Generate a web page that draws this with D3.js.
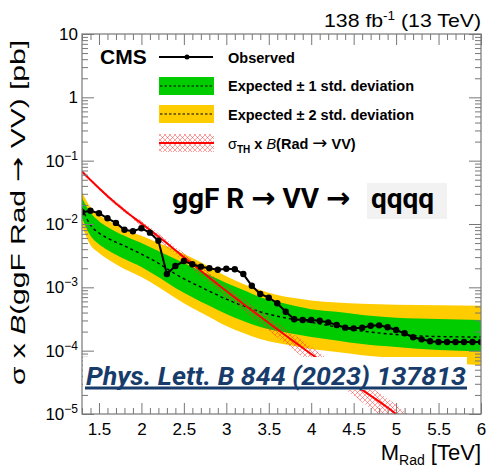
<!DOCTYPE html>
<html>
<head>
<meta charset="utf-8">
<script src="https://cdn.jsdelivr.net/npm/d3@7"></script>
<style>
  body { margin: 0; background: #fff; }
  text { font-family: "Liberation Sans", Arial, sans-serif; }
  .axis path { display: none; }
  .axis line { stroke: #777; }
  .arrow { font-family: "DejaVu Sans", sans-serif; }
</style>
</head>
<body>
<div id="chart"></div>
<script>
// observed limit, one point per 0.1 TeV
var massObs = [1.3,1.4,1.5,1.6,1.7,1.8,1.9,2.0,2.1,2.2,2.3,2.4,2.5,2.6,2.7,2.8,2.9,3.0,3.1,3.2,
  3.3,3.4,3.5,3.6,3.7,3.8,3.9,4.0,4.1,4.2,4.3,4.4,4.5,4.6,4.7,4.8,4.9,5.0,5.1,5.2,5.3,5.4,5.5,5.6,5.7,5.8,5.9,6.0];
var observed = [1.53e-2,1.62e-2,1.48e-2,1.23e-2,1.04e-2,8.1e-3,7.7e-3,8.55e-3,7.3e-3,5.45e-3,1.62e-3,2.17e-3,2.6e-3,
  2.31e-3,2.12e-3,2.0e-3,1.9e-3,1.97e-3,1.93e-3,1.62e-3,1.06e-3,7.85e-4,6.86e-4,5.6e-4,4.12e-4,3.13e-4,3.05e-4,3.05e-4,
  2.97e-4,2.8e-4,2.54e-4,2.31e-4,2.25e-4,2.31e-4,2.48e-4,2.51e-4,2.34e-4,2.12e-4,1.88e-4,1.63e-4,1.51e-4,1.41e-4,
  1.37e-4,1.37e-4,1.37e-4,1.37e-4,1.37e-4,1.37e-4];

// expected limit and bands
var massExp = [1.3,1.4,1.5,1.6,1.8,2.0,2.2,2.4,2.6,2.8,3.0,3.2,3.4,3.6,3.8,4.0,4.3,4.6,5.0,5.5,6.0];
var exp2Up = [3.2e-2,1.85e-2,1.39e-2,1.16e-2,8.3e-3,6.5e-3,5.0e-3,3.9e-3,2.9e-3,2.1e-3,1.5e-3,1.13e-3,9.1e-4,7.6e-4,6.8e-4,6.2e-4,5.75e-4,5.5e-4,5.3e-4,5.2e-4,5.1e-4];
var exp1Up = [2.6e-2,1.5e-2,1.11e-2,9.0e-3,6.5e-3,5.0e-3,3.75e-3,2.8e-3,2.1e-3,1.57e-3,1.17e-3,9.1e-4,7.0e-4,5.9e-4,5.1e-4,4.5e-4,4.1e-4,3.65e-4,3.3e-4,3.16e-4,3.05e-4];
var expMedian = [1.79e-2,9.6e-3,7.2e-3,6.0e-3,4.5e-3,3.35e-3,2.4e-3,1.62e-3,1.17e-3,8.7e-4,6.5e-4,5.1e-4,4.1e-4,3.5e-4,3.1e-4,2.8e-4,2.36e-4,2.04e-4,1.8e-4,1.67e-4,1.64e-4];
var exp1Down = [1.24e-2,6.5e-3,4.8e-3,3.9e-3,2.8e-3,2.1e-3,1.45e-3,9.75e-4,7.0e-4,5.1e-4,3.8e-4,2.94e-4,2.36e-4,2.04e-4,1.83e-4,1.64e-4,1.45e-4,1.27e-4,1.14e-4,1.02e-4,9.7e-5];
var exp2Down = [9.3e-3,4.65e-3,3.5e-3,2.8e-3,1.95e-3,1.45e-3,1.01e-3,6.8e-4,4.7e-4,3.4e-4,2.45e-4,1.9e-4,1.53e-4,1.32e-4,1.18e-4,1.06e-4,9.5e-5,8.5e-5,7.65e-5,6.6e-5,5.9e-5];

// theory cross section x BR and its relative uncertainty
var massTh = [1.3,1.4,1.6,1.8,2.0,2.2,2.5,3.0,3.5,4.0,4.5,5.0,5.2];
var theory = [6.75e-2,4.95e-2,2.77e-2,1.63e-2,1.02e-2,6.35e-3,3.0e-3,8.75e-4,2.74e-4,8.85e-5,2.97e-5,1.0e-5,6.0e-6];
var theoryErr = [0.04,0.05,0.06,0.08,0.1,0.12,0.15,0.2,0.25,0.3,0.35,0.4,0.42];

// axis ticks
var xMajor = [1.5,2,2.5,3,3.5,4,4.5,5,5.5,6];
var xMinor = [1.3,1.4,1.6,1.7,1.8,1.9,2.1,2.2,2.3,2.4,2.6,2.7,2.8,2.9,3.1,3.2,3.3,3.4,3.6,3.7,3.8,3.9,
  4.1,4.2,4.3,4.4,4.6,4.7,4.8,4.9,5.1,5.2,5.3,5.4,5.6,5.7,5.8,5.9];
var xLabels = ["1.5","2","2.5","3","3.5","4","4.5","5","5.5","6"];
var yMajor = [1e-5,1e-4,1e-3,1e-2,1e-1,1,10];
var yExp = [-5,-4,-3,-2,-1,0,1];

var W = 489, H = 467;
var margin = {top: 34, right: 8, bottom: 53, left: 82};

var svg = d3.select("#chart").append("svg")
    .attr("width", W).attr("height", H);

var x = d3.scaleLinear().domain([1.3, 6]).range([margin.left, W - margin.right]);
var y = d3.scaleLog().domain([1e-5, 10]).range([H - margin.bottom, margin.top]);

var yMinor = [];
yMajor.slice(0, -1).forEach(function(d){
  [2,3,4,5,6,7,8,9].forEach(function(k){ yMinor.push(d * k); });
});

var defs = svg.append("defs");
defs.append("clipPath").attr("id", "plotclip").append("rect")
    .attr("x", x(1.3)).attr("y", y(10))
    .attr("width", x(6) - x(1.3)).attr("height", y(1e-5) - y(10));

var hatch = defs.append("pattern").attr("id", "hatch")
    .attr("patternUnits", "userSpaceOnUse").attr("width", 5).attr("height", 5);
hatch.append("path").attr("d", "M0,0 L5,5 M5,0 L0,5 M-1,4 L1,6 M4,-1 L6,1 M-1,1 L1,-1 M4,6 L6,4")
    .attr("stroke", "#f33").attr("stroke-width", 0.6).attr("fill", "none").attr("opacity", 0.8);

var plot = svg.append("g").attr("clip-path", "url(#plotclip)");

var expRows = massExp.map(function(m, i){
  return {m: m, u2: exp2Up[i], u1: exp1Up[i], med: expMedian[i], d1: exp1Down[i], d2: exp2Down[i]};
});

var areaFor = function(lo, hi){
  return d3.area().curve(d3.curveMonotoneX)
    .x(function(d){ return x(d.m); })
    .y0(function(d){ return y(d[lo]); })
    .y1(function(d){ return y(d[hi]); });
};

plot.append("path").datum(expRows).attr("d", areaFor("d2", "u2")).attr("fill", "#ffcc00");
plot.append("path").datum(expRows).attr("d", areaFor("d1", "u1")).attr("fill", "#00cc00");
plot.append("path").datum(expRows)
    .attr("d", d3.line().curve(d3.curveMonotoneX).x(function(d){ return x(d.m); }).y(function(d){ return y(d.med); }))
    .attr("fill", "none").attr("stroke", "#000").attr("stroke-width", 1.4).attr("stroke-dasharray", "3,3");

// theory band
var thRows = massTh.map(function(m, i){
  return {m: m, v: theory[i], lo: theory[i] * (1 - theoryErr[i]), hi: theory[i] * (1 + theoryErr[i])};
});
plot.append("path").datum(thRows)
    .attr("d", areaFor("lo", "hi")).attr("fill", "url(#hatch)");
plot.append("path").datum(thRows)
    .attr("d", d3.line().curve(d3.curveMonotoneX).x(function(d){ return x(d.m); }).y(function(d){ return y(d.v); }))
    .attr("fill", "none").attr("stroke", "#ff0000").attr("stroke-width", 2);

// observed
var obsRows = massObs.map(function(m, i){ return {m: m, v: observed[i]}; });
plot.append("path").datum(obsRows)
    .attr("d", d3.line().x(function(d){ return x(d.m); }).y(function(d){ return y(d.v); }))
    .attr("fill", "none").attr("stroke", "#000").attr("stroke-width", 2);
plot.selectAll("circle.obs").data(obsRows).enter().append("circle")
    .attr("class", "obs")
    .attr("cx", function(d){ return x(d.m); })
    .attr("cy", function(d){ return y(d.v); })
    .attr("r", 3.2).attr("fill", "#000");

// frame
svg.append("rect")
    .attr("x", x(1.3)).attr("y", y(10))
    .attr("width", x(6) - x(1.3)).attr("height", y(1e-5) - y(10))
    .attr("fill", "none").attr("stroke", "#777").attr("stroke-width", 1.2);

// axes, ROOT style ticks pointing inward
var gxB = svg.append("g").attr("class", "axis").attr("transform", "translate(0," + y(1e-5) + ")");
gxB.call(d3.axisBottom(x).tickValues(xMajor).tickSize(-11).tickPadding(9)
    .tickFormat(function(d, i){ return xLabels[i]; }));
gxB.append("g").call(d3.axisBottom(x).tickValues(xMinor).tickSize(-6).tickFormat(""));
gxB.selectAll("text").attr("font-size", 17).attr("fill", "#000")
    .style("font-family", "'Liberation Sans', Arial, sans-serif");

var gxT = svg.append("g").attr("class", "axis").attr("transform", "translate(0," + y(10) + ")");
gxT.call(d3.axisTop(x).tickValues(xMajor).tickSize(-11).tickFormat(""));
gxT.append("g").call(d3.axisTop(x).tickValues(xMinor).tickSize(-6).tickFormat(""));

var gyL = svg.append("g").attr("class", "axis").attr("transform", "translate(" + x(1.3) + ",0)");
gyL.call(d3.axisLeft(y).tickValues(yMajor).tickSize(-12).tickPadding(4).tickFormat(""));
gyL.append("g").call(d3.axisLeft(y).tickValues(yMinor).tickSize(-6).tickFormat(""));

var gyR = svg.append("g").attr("class", "axis").attr("transform", "translate(" + x(6) + ",0)");
gyR.call(d3.axisRight(y).tickValues(yMajor).tickSize(-12).tickFormat(""));
gyR.append("g").call(d3.axisRight(y).tickValues(yMinor).tickSize(-6).tickFormat(""));

// y tick labels with superscript exponents
var yl = svg.append("g");
yMajor.forEach(function(v, i){
  var e = yExp[i];
  var t = yl.append("text").attr("x", x(1.3) - 4).attr("y", y(v) + 6)
      .attr("text-anchor", "end").attr("font-size", 17);
  if (e === 1) t.text("10");
  else if (e === 0) t.text("1");
  else {
    t.append("tspan").text("10");
    t.append("tspan").attr("dy", -7).attr("font-size", 12).text("\u2212" + (-e));
  }
});

// axis titles
var yt = svg.append("text")
    .attr("transform", "translate(25,40) rotate(-90)")
    .attr("text-anchor", "end").attr("font-size", 21)
    .attr("textLength", 345).attr("lengthAdjust", "spacingAndGlyphs");
yt.append("tspan").text("\u03c3 x ");
yt.append("tspan").attr("font-style", "italic").text("B");
yt.append("tspan").text("(ggF Rad ");
yt.append("tspan").attr("class", "arrow").text("\u2192");
yt.append("tspan").text(" VV) [pb]");

var xt = svg.append("text").attr("x", x(6)).attr("y", 460)
    .attr("text-anchor", "end").attr("font-size", 22);
xt.append("tspan").text("M");
xt.append("tspan").attr("dy", 5).attr("font-size", 14).text("Rad");
xt.append("tspan").attr("dy", -5).text(" [TeV]");

// lumi label
var lumi = svg.append("text").attr("x", x(6)).attr("y", 27)
    .attr("text-anchor", "end").attr("font-size", 19)
    .attr("textLength", 157).attr("lengthAdjust", "spacingAndGlyphs");
lumi.append("tspan").text("138 fb");
lumi.append("tspan").attr("dy", -7).attr("font-size", 12).text("-1");
lumi.append("tspan").attr("dy", 7).text(" (13 TeV)");

svg.append("text").attr("x", 100).attr("y", 64)
    .attr("font-size", 21).attr("font-weight", "bold").text("CMS");

// legend
var lg = svg.append("g");
lg.append("line").attr("x1", 159).attr("x2", 213).attr("y1", 57).attr("y2", 57)
    .attr("stroke", "#000").attr("stroke-width", 2);
lg.append("circle").attr("cx", 187).attr("cy", 57).attr("r", 2.5);
lg.append("rect").attr("x", 159).attr("y", 77).attr("width", 55).attr("height", 18).attr("fill", "#00cc00");
lg.append("line").attr("x1", 160).attr("x2", 213).attr("y1", 86).attr("y2", 86)
    .attr("stroke", "#000").attr("stroke-width", 1.2).attr("stroke-dasharray", "2.5,2");
lg.append("rect").attr("x", 159).attr("y", 105).attr("width", 55).attr("height", 18).attr("fill", "#ffcc00");
lg.append("line").attr("x1", 160).attr("x2", 213).attr("y1", 114).attr("y2", 114)
    .attr("stroke", "#000").attr("stroke-width", 1.2).attr("stroke-dasharray", "2.5,2");
lg.append("rect").attr("x", 159).attr("y", 134).attr("width", 55).attr("height", 18).attr("fill", "url(#hatch)");
lg.append("line").attr("x1", 159).attr("x2", 214).attr("y1", 143).attr("y2", 143)
    .attr("stroke", "#ff0000").attr("stroke-width", 2);

var legLabels = ["Observed", "Expected \u00b1 1 std. deviation", "Expected \u00b1 2 std. deviation"];
var legY = [63, 91, 119.5];
legLabels.forEach(function(s, i){
  lg.append("text").attr("x", 228).attr("y", legY[i]).attr("font-size", 14.5)
      .attr("font-weight", "bold").text(s);
});
var th = lg.append("text").attr("x", 228).attr("y", 148.5).attr("font-size", 14.5).attr("font-weight", "bold");
th.append("tspan").attr("font-weight", "normal").text("\u03c3");
th.append("tspan").attr("dy", 4).attr("font-size", 10).text("TH");
th.append("tspan").attr("dy", -4).text(" x  ");
th.append("tspan").attr("font-style", "italic").attr("font-weight", "normal").text("B");
th.append("tspan").text("(Rad ");
th.append("tspan").attr("class", "arrow").attr("font-weight", "normal").attr("font-size", 18).text("\u2192");
th.append("tspan").text(" VV)");

// channel title
var title = svg.append("text").attr("x", 172).attr("y", 208)
    .style("font-family", "Roboto, sans-serif")
    .attr("font-size", 28).attr("font-weight", "bold");
title.append("tspan").text("ggF R ");
title.append("tspan").style("font-family", "'DejaVu Sans', sans-serif")
    .attr("font-size", 29).text("\u2192");
title.append("tspan").text(" VV ");
title.append("tspan").style("font-family", "'DejaVu Sans', sans-serif")
    .attr("font-size", 29).text("\u2192");
svg.append("rect").attr("x", 367).attr("y", 183).attr("width", 80).attr("height", 36).attr("fill", "#f2f2f2");
svg.append("text").attr("x", 371).attr("y", 208)
    .style("font-family", "Roboto, sans-serif")
    .attr("font-size", 28).attr("font-weight", "bold")
    .text("qqqq");

// journal reference
svg.append("rect").attr("x", 83).attr("y", 357).attr("width", 384).attr("height", 33).attr("fill", "#fff");
svg.append("text").attr("x", 86).attr("y", 385)
    .style("font-family", "Roboto, sans-serif")
    .attr("font-size", 25).attr("font-weight", "bold").attr("font-style", "italic")
    .attr("fill", "#173c6b").attr("textLength", 380).attr("lengthAdjust", "spacingAndGlyphs")
    .text("Phys. Lett. B 844 (2023) 137813");
svg.append("rect").attr("x", 85).attr("y", 386.5).attr("width", 382).attr("height", 3).attr("fill", "#173c6b");
</script>
</body>
</html>
